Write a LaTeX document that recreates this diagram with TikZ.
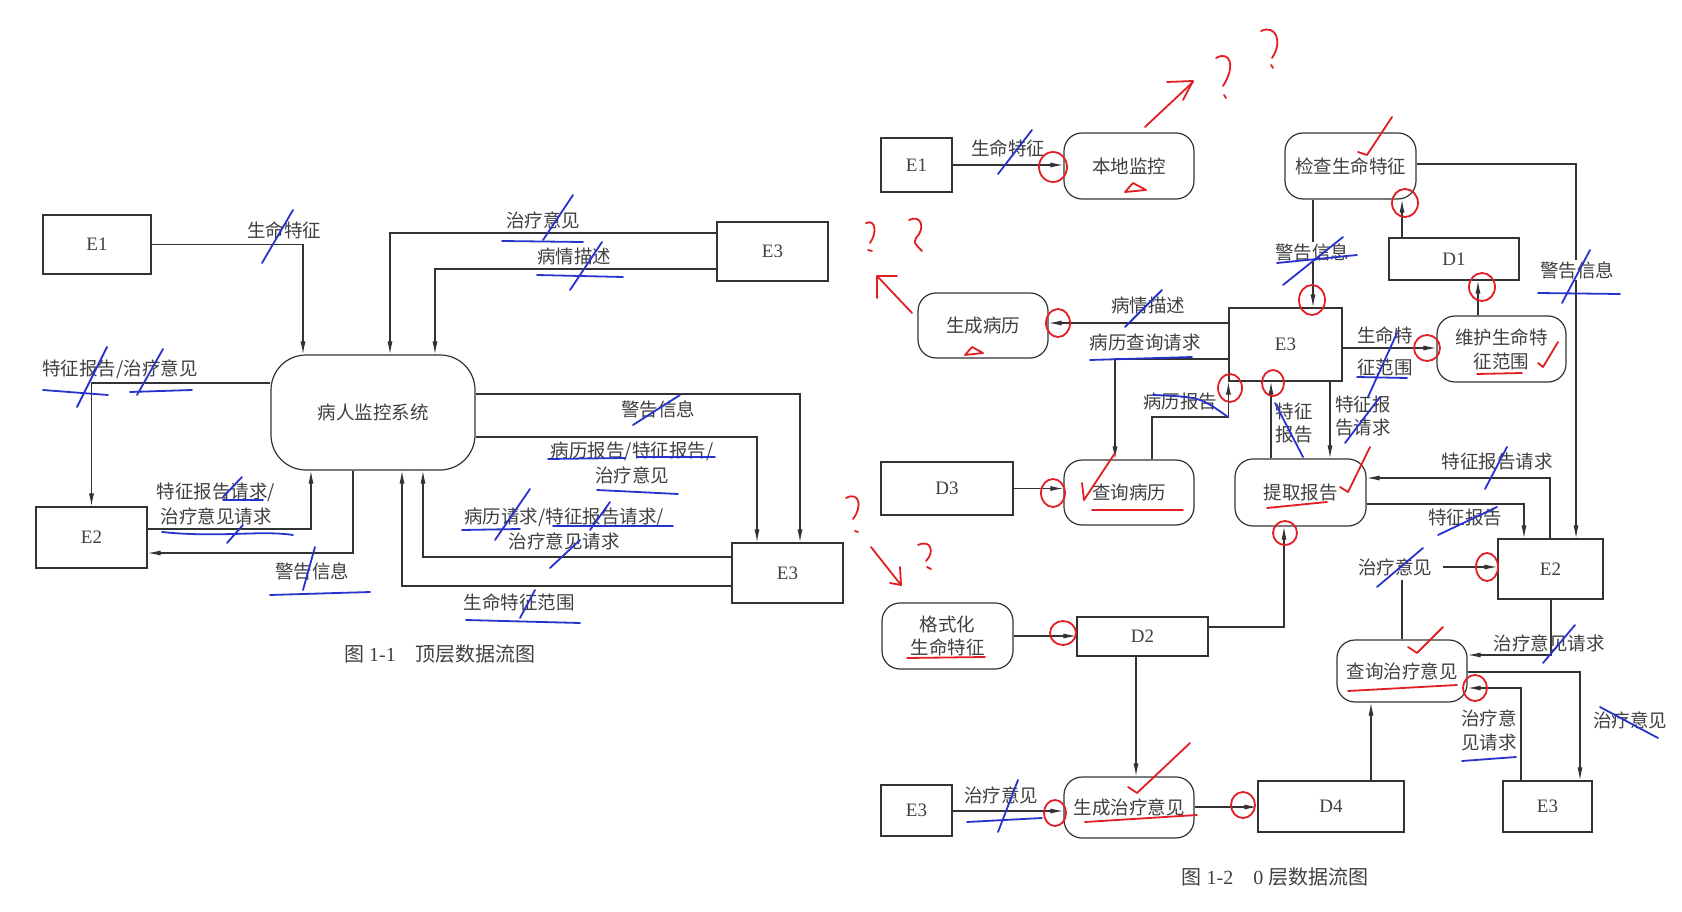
\documentclass[tikz,border=0pt]{standalone}
\usepackage{fontspec}
\setmainfont{Liberation Serif}
\newfontfamily\cjk{Noto Sans CJK SC}
\usetikzlibrary{arrows.meta}
\definecolor{ln}{HTML}{333333}
\definecolor{tx}{HTML}{404040}
\definecolor{bm}{RGB}{40,50,205}
\definecolor{rm}{RGB}{225,30,35}
\begin{document}
\begin{tikzpicture}[x=1pt,y=-1pt,
  box/.style={draw=ln,line width=1.2pt,inner sep=0pt,font=\fontsize{19}{22}\selectfont,text=tx},
  proc/.style={box,rounded corners=18pt,align=center,font=\cjk\fontsize{18.5}{24}\selectfont},
  lab/.style={font=\cjk\fontsize{18.5}{25}\selectfont,text=tx,inner sep=1pt,align=center},
  flow/.style={draw=ln,line width=1.1pt},
  arr/.style={flow,-{Latex[length=13pt,width=5pt]}},
  bmk/.style={draw=bm,line width=1.8pt,line cap=round},
  rmk/.style={draw=rm,line width=1.8pt,line cap=round,line join=round},
]
\useasboundingbox[fill=white] (0,0) rectangle (1682,912);

% ================= Figure 1-1 =================
\node[box,minimum width=108,minimum height=59] (e1L) at (97,244.5) {E1};
\node[box,rounded corners=35pt,minimum width=204,minimum height=115,font=\cjk\fontsize{18.5}{24}\selectfont] (sysL) at (373,412.5) {病人监控系统};
\node[box,minimum width=111,minimum height=59] (e3La) at (772.5,251.5) {E3};
\node[box,minimum width=111,minimum height=61] (e2L) at (91.5,537.5) {E2};
\node[box,minimum width=111,minimum height=60] (e3Lb) at (787.5,573) {E3};

\draw[arr] (e1L.east) -| (sysL.north -| 303,0);
\draw[arr] (e3La.west |- 0,233) -| (sysL.north -| 390,0);
\draw[arr] (e3La.west |- 0,269) -| (sysL.north -| 435,0);
\draw[arr] (sysL.west |- 0,383) -| (e2L.north);
\draw[arr] (e2L.east |- 0,529) -| (sysL.south -| 311,0);
\draw[arr] (sysL.south -| 353,0) |- (e2L.east |- 0,553);
\draw[arr] (e3Lb.west |- 0,557) -| (sysL.south -| 423,0);
\draw[arr] (e3Lb.west |- 0,586) -| (sysL.south -| 402,0);
\draw[arr] (sysL.east |- 0,437) -| (e3Lb.north -| 757,0);
\draw[arr] (sysL.east |- 0,394) -| (e3Lb.north -| 800,0);

\node[lab] (la1) at (284,230) {生命特征};
\node[lab] (la2) at (543,220) {治疗意见};
\node[lab] (la3) at (574,256) {病情描述};
\node[lab] (la4) at (120,369) {特征报告/治疗意见};
\node[lab] (la5) at (216,504) {特征报告请求/\\治疗意见请求};
\node[lab] (la6) at (312,571) {警告信息};
\node[lab] (la7) at (564,529) {病历请求/特征报告请求/\\治疗意见请求};
\node[lab] (la8) at (519,602) {生命特征范围};
\node[lab] (la9) at (632,463) {病历报告/特征报告/\\治疗意见};
\node[lab] (la10) at (658,409) {警告信息};
\node[text=tx,font=\fontsize{20}{24}\selectfont] (capL) at (440,654) {{\cjk 图} 1-1\quad{\cjk 顶层数据流图}};

% ================= Figure 1-2 =================
\node[box,minimum width=71,minimum height=54] (e1R) at (916.5,165) {E1};
\node[proc,minimum width=130,minimum height=66] (bdjk) at (1129,166) {本地监控};
\node[proc,minimum width=131,minimum height=66] (jcsm) at (1350.5,166) {检查生命特征};
\node[proc,minimum width=130,minimum height=65] (scbl) at (983,325.5) {生成病历};
\node[box,minimum width=113,minimum height=73] (e3R) at (1285.5,344.5) {E3};
\node[box,minimum width=130,minimum height=42] (d1) at (1454,259) {D1};
\node[proc,minimum width=129,minimum height=66] (whsm) at (1501.5,349) {维护生命特\\征范围};
\node[box,minimum width=132,minimum height=53] (d3) at (947,488.5) {D3};
\node[proc,minimum width=130,minimum height=65] (cxbl) at (1129,492.5) {查询病历};
\node[proc,minimum width=131,minimum height=67] (tqbg) at (1300.5,492.5) {提取报告};
\node[box,minimum width=105,minimum height=60] (e2R) at (1550.5,569) {E2};
\node[proc,minimum width=131,minimum height=66,font=\cjk\fontsize{18.5}{23}\selectfont] (gsh) at (947.5,636) {格式化\\生命特征};
\node[box,minimum width=131,minimum height=39] (d2) at (1142.5,636.5) {D2};
\node[proc,minimum width=130,minimum height=62] (cxzl) at (1402,671) {查询治疗意见};
\node[box,minimum width=71,minimum height=51] (e3Rc) at (916.5,810.5) {E3};
\node[proc,minimum width=130,minimum height=61] (sczl) at (1129,807.5) {生成治疗意见};
\node[box,minimum width=146,minimum height=51] (d4) at (1331,806.5) {D4};
\node[box,minimum width=89,minimum height=51] (e3Rd) at (1547.5,806.5) {E3};

\draw[arr] (e1R.east) -- (bdjk.west |- e1R.east);
\draw[arr] (e3R.west |- 0,323) -- (scbl.east |- 0,323);
\draw[arr] (e3R.west |- 0,359) -| (cxbl.north -| 1115,0);
\draw[arr] (d3.east) -- (cxbl.west |- d3.east);
\draw[arr] (cxbl.north -| 1152,0) |- (e3R.south west |- 0,417) -- (e3R.south west);
\draw[arr] (tqbg.north -| 1271,0) -- (e3R.south -| 1271,0);
\draw[arr] (e3R.south -| 1330,0) -- (tqbg.north -| 1330,0);
\draw[arr] (jcsm.south -| 1313,0) -- (e3R.north -| 1313,0);
\draw[arr] (d1.north -| 1402,0) -- (jcsm.south -| 1402,0);
\draw[arr] (whsm.north -| 1478,0) -- (d1.south -| 1478,0);
\draw[arr] (e3R.east |- 0,348) -- (whsm.west |- 0,348);
\draw[arr] (jcsm.east |- 0,164) -| (e2R.north -| 1576,0);
\draw[arr] (e2R.north -| 1550,0) |- (tqbg.east |- 0,478);
\draw[arr] (tqbg.east |- 0,504) -| (e2R.north -| 1524,0);
\coordinate (tzA) at (1402,580);
\coordinate (tzB) at (1443,567);
\draw[flow] (cxzl.north) -- (tzA);
\draw[arr] (tzB) -- (e2R.west |- tzB);
\draw[arr] (e2R.south -| 1551,0) |- (cxzl.east |- 0,655);
\draw[arr] (cxzl.east |- 0,672) -| (e3Rd.north -| 1580,0);
\draw[arr] (e3Rd.north -| 1521,0) |- (cxzl.east |- 0,688);
\draw[arr] (d4.north -| 1371,0) -- (cxzl.south -| 1371,0);
\draw[arr] (d2.east |- 0,627) -| (tqbg.south -| 1284,0);
\draw[arr] (gsh.east) -- (d2.west |- gsh.east);
\draw[arr] (d2.south -| 1136,0) -- (sczl.north -| 1136,0);
\draw[arr] (e3Rc.east |- 0,811) -- (sczl.west |- 0,811);
\draw[arr] (sczl.east |- 0,807) -- (d4.west |- 0,807);

\node[lab] (lb1) at (1008,148) {生命特征};
\node[lab] (lb2) at (1148,305) {病情描述};
\node[lab] (lb3) at (1145,342) {病历查询请求};
\node[lab] (lb4) at (1180,402) {病历报告};
\node[lab,font=\cjk\fontsize{18.5}{23}\selectfont] (lb5) at (1294,423) {特征\\报告};
\node[lab,font=\cjk\fontsize{18.5}{23}\selectfont] (lb6) at (1363,416) {特征报\\告请求};
\node[lab,fill=white] (lb7) at (1312,252) {警告信息};
\node[lab] (lb8a) at (1385,335) {生命特};
\node[lab] (lb8b) at (1385,367) {征范围};
\node[lab,fill=white] (lb9) at (1577,270) {警告信息};
\node[lab] (lb10) at (1497,462) {特征报告请求};
\node[lab] (lb11) at (1465,518) {特征报告};
\node[lab] (lb12) at (1395,567) {治疗意见};
\node[lab] (lb13) at (1549,643) {治疗意见请求};
\node[lab] (lb14) at (1630,720) {治疗意见};
\node[lab,font=\cjk\fontsize{18.5}{24}\selectfont] (lb15) at (1489,730) {治疗意\\见请求};
\node[lab] (lb16) at (1001,795) {治疗意见};
\node[text=tx,font=\fontsize{20}{24}\selectfont] (capR) at (1275,877) {{\cjk 图} 1-2\quad 0 {\cjk 层数据流图}};

% ================= hand annotations: blue =================
\draw[bmk] (262,263) -- (293,210);
\draw[bmk] (77,407) -- (107,347);
\draw[bmk] (43,390) -- (108,395);
\draw[bmk] (137,395) -- (163,349);
\draw[bmk] (130,392) -- (192,390);
\draw[bmk] (223,500) -- (263,500);
\draw[bmk] (223,497) -- (242,477);
\draw[bmk] (162,532) .. controls (220,538) and (260,530) .. (293,535);
\draw[bmk] (227,543) -- (243,525);
\draw[bmk] (303,590) -- (315,547);
\draw[bmk] (270,595) -- (370,592);
\draw[bmk] (543,240) -- (573,195);
\draw[bmk] (502,241) -- (583,242);
\draw[bmk] (570,290) -- (602,242);
\draw[bmk] (537,275) -- (623,277);
\draw[bmk] (633,425) -- (680,395);
\draw[bmk] (548,459) -- (625,458);
\draw[bmk] (637,457) -- (715,457);
\draw[bmk] (597,490) -- (678,494);
\draw[bmk] (462,530) -- (520,529);
\draw[bmk] (495,540) -- (530,489);
\draw[bmk] (553,526) -- (673,526);
\draw[bmk] (590,530) -- (610,502);
\draw[bmk] (550,568) -- (580,540);
\draw[bmk] (520,618) -- (535,590);
\draw[bmk] (466,620) -- (580,623);

\draw[bmk] (998,174) -- (1032,130);
\draw[bmk] (1125,327) -- (1162,290);
\draw[bmk] (1090,360) -- (1192,357);
\draw[bmk] (1153,395) .. controls (1200,397) .. (1228,417);
\draw[bmk] (1275,403) -- (1303,457);
\draw[bmk] (1345,443) -- (1380,397);
\draw[bmk] (1485,489) -- (1507,447);
\draw[bmk] (1438,535) -- (1497,507);
\draw[bmk] (1377,587) -- (1423,548);
\draw[bmk] (1543,663) -- (1575,625);
\draw[bmk] (1277,263) -- (1357,255);
\draw[bmk] (1283,285) -- (1343,237);
\draw[bmk] (1562,303) -- (1590,250);
\draw[bmk] (1538,293) -- (1620,294);
\draw[bmk] (1368,397) -- (1397,333);
\draw[bmk] (1357,377) -- (1407,378);
\draw[bmk] (998,832) -- (1018,780);
\draw[bmk] (967,822) -- (1042,818);
\draw[bmk] (1462,761) -- (1516,757);
\draw[bmk] (1600,707) -- (1658,738);

% ================= hand annotations: red =================
\foreach \cx/\cy/\rx/\ry in {1053/167/14/15, 1058/323/12/14, 1230/388/12/14, 1273/383/11/13,
  1053/493/12/14, 1285/533/12/12, 1487/567/11/14, 1405/203/13/14, 1312/300/13/15,
  1482/287/13/14, 1427/348/13/13, 1063/633/13/12, 1055/813/11/13, 1243/805/12/13, 1475/688/12/13}
  \draw[rmk] (\cx,\cy) ellipse [x radius=\rx, y radius=\ry];
\draw[rmk] (1125,192) -- (1133,183) -- (1146,190) -- cycle;
\draw[rmk] (965,355) -- (972,347) -- (983,353) -- cycle;
\draw[rmk] (1358,152) -- (1367,155) -- (1392,117);
\draw[rmk] (1082,483) -- (1084,500) -- (1115,453);
\draw[rmk] (1340,487) -- (1348,492) -- (1370,447);
\draw[rmk] (1408,647) -- (1417,653) -- (1443,627);
\draw[rmk] (1128,787) -- (1137,793) -- (1190,743);
\draw[rmk] (1538,363) -- (1543,367) -- (1558,342);
\draw[rmk] (1092,510) -- (1183,510);
\draw[rmk] (1267,508) -- (1327,502);
\draw[rmk] (1477,374) -- (1522,373);
\draw[rmk] (907,658) -- (985,657);
\draw[rmk] (1085,822) -- (1197,815);
\draw[rmk] (1348,691) -- (1457,685);
\draw[rmk] (1145,127) -- (1193,82);
\draw[rmk] (1167,82) -- (1193,81) -- (1183,100);
\draw[rmk] (912,313) -- (878,277);
\draw[rmk] (877,298) -- (877,276) -- (897,276);
\draw[rmk] (871,547) -- (901,585);
\draw[rmk] (890,583) -- (901,585) -- (900,567);
% hand-drawn question marks
\draw[rmk] (1216,58) .. controls (1230,50) and (1236,66) .. (1223,86);
\draw[rmk] (1224,95) -- (1226,98);
\draw[rmk] (1261,31) .. controls (1276,24) and (1283,42) .. (1272,58);
\draw[rmk] (1271,65) -- (1273,68);
\draw[rmk] (866,223) .. controls (876,219) and (877,233) .. (870,243);
\draw[rmk] (868,250) -- (872,251);
\draw[rmk] (909,220) .. controls (921,214) and (926,228) .. (916,238) .. controls (914,243) .. (922,251);
\draw[rmk] (846,498) .. controls (859,491) and (863,506) .. (853,519);
\draw[rmk] (855,531) -- (858,532);
\draw[rmk] (918,545) .. controls (931,539) and (935,552) .. (926,561);
\draw[rmk] (927,567) -- (931,569);
\end{tikzpicture}
\end{document}
